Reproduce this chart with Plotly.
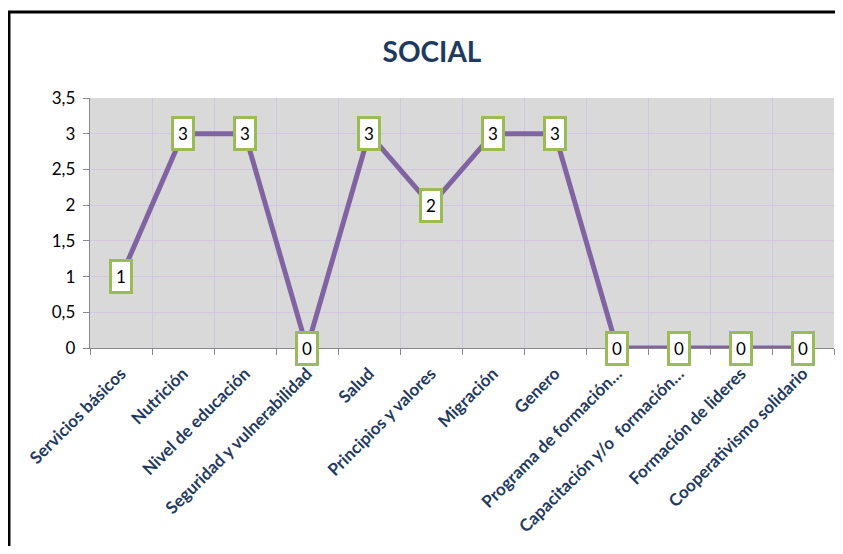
import plotly.graph_objects as go

categories = [
    "Servicios básicos", "Nutrición", "Nivel de educación",
    "Seguridad y vulnerabilidad", "Salud", "Principios y valores",
    "Migración", "Genero", "Programa de formación…",
    "Capacitación y/o  formación…", "Formación de lideres",
    "Cooperativismo solidario",
]
values = [1, 3, 3, 0, 3, 2, 3, 3, 0, 0, 0, 0]

fig = go.Figure()
fig.add_trace(go.Scatter(
    x=categories, y=values, mode="lines",
    line=dict(color="#8064a2", width=5),
    hoverinfo="x+y", showlegend=False,
))

# data labels: white boxes with green border
for c, v in zip(categories, values):
    fig.add_annotation(
        x=c, y=v, xref="x", yref="y", text=str(v), showarrow=False,
        font=dict(family="Lato", size=17, color="#000000"),
        bgcolor="white", bordercolor="#9bbb59", borderwidth=3, borderpad=4,
    )

# outer chart border
fig.add_shape(
    type="rect", xref="paper", yref="paper",
    x0=-0.1089, x1=1.05, y0=-0.9, y1=1.344,
    line=dict(color="black", width=3), layer="above",
)

# page body adds an 8px offset, so the figure is a little smaller
fig.update_layout(
    width=827, height=538,
    margin=dict(l=82, r=1, t=90, b=198),
    paper_bgcolor="white", plot_bgcolor="#d9d9d9",
    separators=",.",
    title=dict(
        text="SOCIAL", x=0.5127, xanchor="center", y=0.918, yanchor="middle",
        font=dict(family="Lato", size=28, color="#1f3a5f", weight="bold"),
    ),
    xaxis=dict(
        range=[-0.5, 11.5], automargin=False,
        tickangle=-45, tickson="boundaries", ticks="outside", ticklen=6,
        ticklabelstandoff=8,
        tickcolor="#888888", showline=True, linecolor="#888888", linewidth=1,
        showgrid=True, gridcolor="#d3c6e3", gridwidth=1,
        tickfont=dict(family="Lato", size=17, color="#1f3a5f", weight="bold"),
        fixedrange=True,
    ),
    yaxis=dict(
        range=[0, 3.5], dtick=0.5, ticks="outside", ticklen=6, automargin=False,
        tickcolor="#888888", showline=True, linecolor="#888888", linewidth=1,
        showgrid=True, gridcolor="#d3c6e3", gridwidth=1, zeroline=False,
        tickfont=dict(family="Lato", size=17, color="#000000"),
        ticksuffix=" ",
    ),
)

fig.write_html("out.html")
